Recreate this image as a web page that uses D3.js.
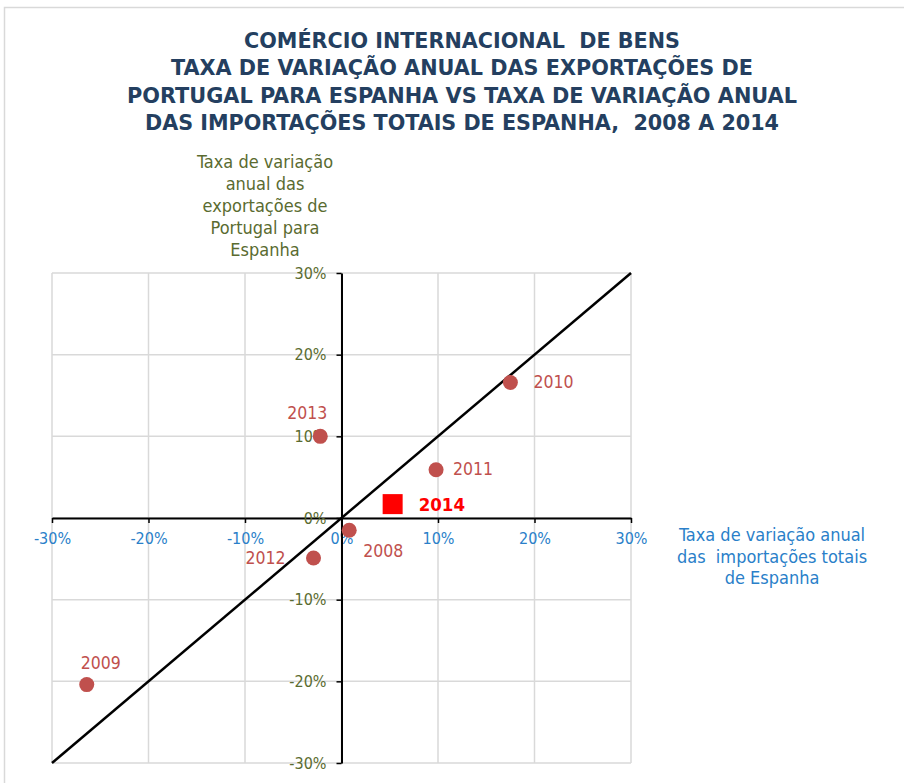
<!DOCTYPE html>
<html>
<head>
<meta charset="utf-8">
<script src="https://cdn.jsdelivr.net/npm/d3@7"></script>
<style>
  body { margin: 0; background: #fff; }
  svg { font-family: "DejaVu Sans Condensed", "DejaVu Sans", sans-serif; }
  svg text { white-space: pre; }
</style>
</head>
<body>
<div id="chart"></div>
<script>
var years = ["2008", "2009", "2010", "2011", "2012", "2013", "2014"];
var importsES = [0.8, -26.4, 17.5, 9.8, -2.9, -2.2, 5.3];   // x: importações totais de Espanha (%)
var exportsPT = [-1.5, -20.4, 16.6, 5.9, -4.9, 10.0, 1.7];  // y: exportações de Portugal para Espanha (%)
var tickValues = [-30, -20, -10, 0, 10, 20, 30];

var titleLines = [
    "COMÉRCIO INTERNACIONAL  DE BENS",
    "TAXA DE VARIAÇÃO ANUAL DAS EXPORTAÇÕES DE",
    "PORTUGAL PARA ESPANHA VS TAXA DE VARIAÇÃO ANUAL",
    "DAS IMPORTAÇÕES TOTAIS DE ESPANHA,  2008 A 2014"
];
var yTitleLines = ["Taxa de variação", "anual das", "exportações de", "Portugal para", "Espanha"];
var xTitleLines = ["Taxa de variação anual", "das  importações totais", "de Espanha"];

var data = years.map(function (yr, i) {
    return { year: yr, x: importsES[i], y: exportsPT[i] };
});

// label placement per point (relative to marker)
var labelPos = {
    "2008": { dx: 14, dy: 27, anchor: "start" },
    "2009": { dx: -6, dy: -16, anchor: "start" },
    "2010": { dx: 23, dy: 6, anchor: "start" },
    "2011": { dx: 17, dy: 5, anchor: "start" },
    "2012": { dx: -28, dy: 6, anchor: "end" },
    "2013": { dx: -33, dy: -17, anchor: "start" },
    "2014": { dx: 26, dy: 7, anchor: "start" }
};

var svgWidth = 904, svgHeight = 783;
var svg = d3.select("#chart").append("svg")
    .attr("width", svgWidth)
    .attr("height", svgHeight);

// chart frame
svg.append("rect")
    .attr("x", 4.5).attr("y", 7.5)
    .attr("width", 1000).attr("height", 1000)
    .attr("fill", "none")
    .attr("stroke", "#d9d9d9")
    .attr("stroke-width", 1.5);

var xScale = d3.scaleLinear().domain([-30, 30]).range([52, 631]);
var yScale = d3.scaleLinear().domain([-30, 30]).range([763, 273]);

// title
var titleWidths = [436, 582, 670, 634];
svg.append("g").selectAll("text")
    .data(titleLines).enter().append("text")
    .attr("x", 462)
    .attr("y", function (d, i) { return 48 + i * 27.3; })
    .attr("text-anchor", "middle")
    .attr("font-size", 21)
    .attr("font-weight", "bold")
    .attr("fill", "#243f60")
    .attr("textLength", function (d, i) { return titleWidths[i]; })
    .attr("lengthAdjust", "spacingAndGlyphs")
    .text(function (d) { return d; });

// gridlines
var grid = svg.append("g").attr("stroke", "#d9d9d9").attr("stroke-width", 1.5);
grid.selectAll("line.v").data(tickValues).enter().append("line")
    .attr("x1", function (d) { return xScale(d); })
    .attr("x2", function (d) { return xScale(d); })
    .attr("y1", yScale(30)).attr("y2", yScale(-30));
grid.selectAll("line.h").data(tickValues).enter().append("line")
    .attr("y1", function (d) { return yScale(d); })
    .attr("y2", function (d) { return yScale(d); })
    .attr("x1", xScale(-30)).attr("x2", xScale(30));

// axes
var fmt = function (d) { return d + "%"; };

var xAxis = svg.append("g")
    .attr("transform", "translate(0," + yScale(0) + ")")
    .call(d3.axisBottom(xScale).tickValues(tickValues).tickFormat(fmt).tickSize(5).tickPadding(10).tickSizeOuter(0));
xAxis.select(".domain").attr("stroke", "#000").attr("stroke-width", 2);
xAxis.selectAll(".tick line").attr("stroke", "#000").attr("stroke-width", 1.5);
xAxis.selectAll("text").attr("fill", "#2a7fc9").attr("font-size", 16)
    .attr("font-family", "DejaVu Sans Condensed");

var yAxis = svg.append("g")
    .attr("transform", "translate(" + xScale(0) + ",0)")
    .call(d3.axisLeft(yScale).tickValues(tickValues).tickFormat(fmt).tickSize(5).tickPadding(10).tickSizeOuter(0));
yAxis.select(".domain").attr("stroke", "#000").attr("stroke-width", 2);
yAxis.selectAll(".tick line").attr("stroke", "#000").attr("stroke-width", 1.5);
yAxis.selectAll("text").attr("fill", "#5a6b30").attr("font-size", 16)
    .attr("font-family", "DejaVu Sans Condensed");

// diagonal reference line
svg.append("line")
    .attr("x1", xScale(-30)).attr("y1", yScale(-30))
    .attr("x2", xScale(30)).attr("y2", yScale(30))
    .attr("stroke", "#000")
    .attr("stroke-width", 2.5);

// axis titles
svg.append("g").selectAll("text")
    .data(yTitleLines).enter().append("text")
    .attr("x", 265)
    .attr("y", function (d, i) { return 168 + i * 22; })
    .attr("text-anchor", "middle")
    .attr("font-size", 18)
    .attr("fill", "#5a6b30")
    .text(function (d) { return d; });

svg.append("g").selectAll("text")
    .data(xTitleLines).enter().append("text")
    .attr("x", 772)
    .attr("y", function (d, i) { return 541 + i * 21.5; })
    .attr("text-anchor", "middle")
    .attr("font-size", 18)
    .attr("fill", "#2a7fc9")
    .text(function (d) { return d; });

// points
var past = data.filter(function (d) { return d.year !== "2014"; });
var last = data.filter(function (d) { return d.year === "2014"; });

svg.append("g").selectAll("circle")
    .data(past).enter().append("circle")
    .attr("cx", function (d) { return xScale(d.x); })
    .attr("cy", function (d) { return yScale(d.y); })
    .attr("r", 7.5)
    .attr("fill", "#c0504d");

svg.append("g").selectAll("rect")
    .data(last).enter().append("rect")
    .attr("x", function (d) { return xScale(d.x) - 10; })
    .attr("y", function (d) { return yScale(d.y) - 10; })
    .attr("width", 20).attr("height", 20)
    .attr("fill", "#ff0000");

// point labels
svg.append("g").selectAll("text")
    .data(data).enter().append("text")
    .attr("x", function (d) { return xScale(d.x) + labelPos[d.year].dx; })
    .attr("y", function (d) { return yScale(d.y) + labelPos[d.year].dy; })
    .attr("text-anchor", function (d) { return labelPos[d.year].anchor; })
    .attr("font-size", function (d) { return d.year === "2014" ? 18.5 : 17.5; })
    .attr("font-weight", function (d) { return d.year === "2014" ? "bold" : "normal"; })
    .attr("fill", function (d) { return d.year === "2014" ? "#ff0000" : "#c0504d"; })
    .text(function (d) { return d.year; });
</script>
</body>
</html>
